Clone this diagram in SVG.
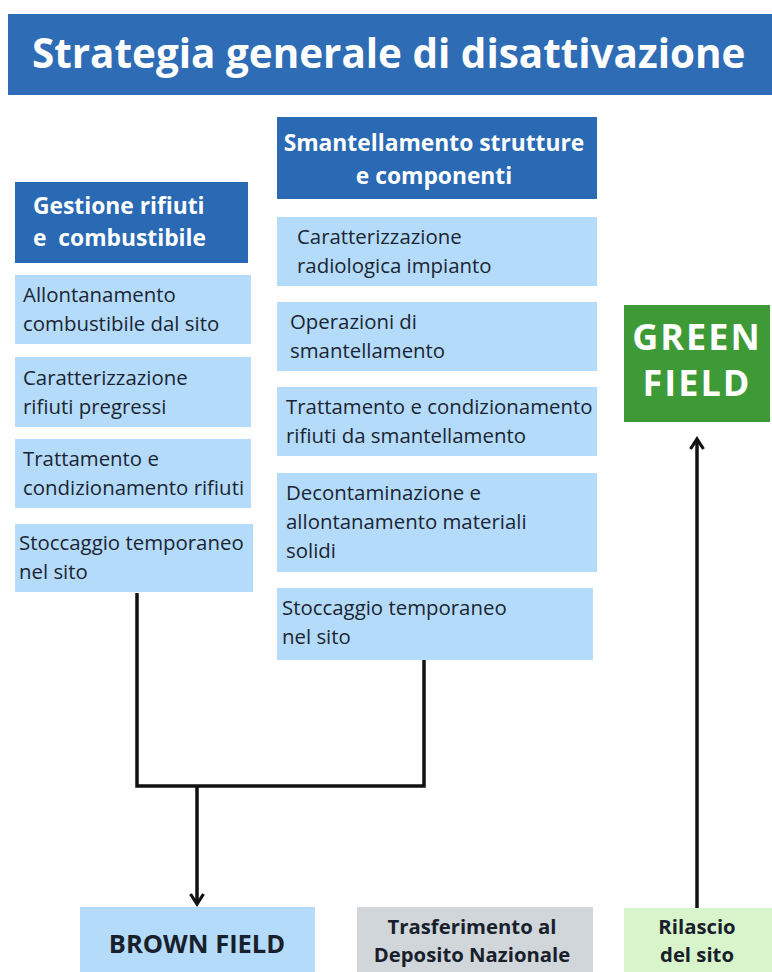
<svg xmlns="http://www.w3.org/2000/svg" width="772" height="972" viewBox="0 0 772 972">
<defs>
<style>
.dark{fill:#2a69b3}
.lite{fill:#b5dbfa}
.t{font-family:"Open Sans","Noto Sans","DejaVu Sans",sans-serif;font-size:20.4px;fill:#1a2533}
.h{font-family:"Open Sans","Noto Sans","DejaVu Sans",sans-serif;font-size:22.8px;font-weight:bold;fill:#ffffff}
.b{font-family:"Open Sans","Noto Sans","DejaVu Sans",sans-serif;font-size:20.3px;font-weight:bold;fill:#18202b;text-anchor:middle}
.big{font-size:25.5px}
.ln{fill:none;stroke:#111111;stroke-width:3.5;stroke-linejoin:miter}
</style>
<marker id="arr" viewBox="0 0 16 16" refX="13" refY="8" markerWidth="16" markerHeight="16" markerUnits="userSpaceOnUse" orient="auto">
<path d="M3,1.5 L13,8 L3,14.5" fill="none" stroke="#111111" stroke-width="3.2"/>
</marker>
</defs>
<rect width="772" height="972" fill="#ffffff"/>

<g id="title">
<rect x="8" y="14" width="764" height="81" fill="#2e6cb5"/>
<text x="32" y="68" font-family="'Open Sans','Noto Sans',sans-serif" font-size="40.4" font-weight="bold" fill="#ffffff">Strategia generale di disattivazione</text>
</g>

<g id="hdr-left">
<rect class="dark" x="15" y="182" width="233" height="81"/>
<text class="h" x="33" y="214">Gestione rifiuti</text>
<text class="h" x="33" y="246" xml:space="preserve">e  combustibile</text>
</g>
<g id="l1"><rect class="lite" x="15" y="275" width="236" height="69"/>
<text class="t" x="23" y="302">Allontanamento</text><text class="t" x="23" y="331">combustibile dal sito</text></g>
<g id="l2"><rect class="lite" x="15" y="357" width="236" height="70"/>
<text class="t" x="23" y="385">Caratterizzazione</text><text class="t" x="23" y="414">rifiuti pregressi</text></g>
<g id="l3"><rect class="lite" x="15" y="439" width="236" height="69"/>
<text class="t" x="23" y="466">Trattamento e</text><text class="t" x="23" y="495">condizionamento rifiuti</text></g>
<g id="l4"><rect class="lite" x="15" y="524" width="238" height="68"/>
<text class="t" x="19" y="550">Stoccaggio temporaneo</text><text class="t" x="19" y="579">nel sito</text></g>

<g id="hdr-right">
<rect class="dark" x="277" y="117" width="320" height="82"/>
<text class="h" x="434" y="151" text-anchor="middle">Smantellamento strutture</text>
<text class="h" x="434" y="184" text-anchor="middle">e componenti</text>
</g>
<g id="r1"><rect class="lite" x="277" y="217" width="320" height="69"/>
<text class="t" x="297" y="244">Caratterizzazione</text><text class="t" x="297" y="273">radiologica impianto</text></g>
<g id="r2"><rect class="lite" x="277" y="302" width="320" height="69"/>
<text class="t" x="290" y="329">Operazioni di</text><text class="t" x="290" y="358">smantellamento</text></g>
<g id="r3"><rect class="lite" x="277" y="387" width="320" height="69"/>
<text class="t" x="286" y="414">Trattamento e condizionamento</text><text class="t" x="286" y="443">rifiuti da smantellamento</text></g>
<g id="r4"><rect class="lite" x="277" y="473" width="320" height="99"/>
<text class="t" x="286" y="500">Decontaminazione e</text><text class="t" x="286" y="529">allontanamento materiali</text><text class="t" x="286" y="558">solidi</text></g>
<g id="r5"><rect class="lite" x="277" y="588" width="316" height="72"/>
<text class="t" x="282" y="615">Stoccaggio temporaneo</text><text class="t" x="282" y="644">nel sito</text></g>

<g id="green">
<rect x="624" y="305" width="146" height="117" fill="#3e9a37"/>
<text x="697" y="350" font-family="'Open Sans','Noto Sans',sans-serif" font-size="36" font-weight="bold" fill="#ffffff" text-anchor="middle" letter-spacing="2">GREEN</text>
<text x="697" y="396" font-family="'Open Sans','Noto Sans',sans-serif" font-size="36" font-weight="bold" fill="#ffffff" text-anchor="middle" letter-spacing="2">FIELD</text>
</g>

<g id="brown">
<rect class="lite" x="80" y="907" width="235" height="65"/>
<text class="b big" x="197" y="953">BROWN FIELD</text>
</g>
<g id="deposito">
<rect x="357" y="907" width="236" height="65" fill="#d1d6db"/>
<text class="b" x="472" y="934">Trasferimento al</text>
<text class="b" x="472" y="962">Deposito Nazionale</text>
</g>
<g id="rilascio">
<rect x="624" y="908" width="148" height="64" fill="#d8f4cb"/>
<text class="b" x="697" y="934">Rilascio</text>
<text class="b" x="697" y="962">del sito</text>
</g>

<g id="connectors">
<polyline class="ln" points="137,593 137,786 424,786 424,660"/>
<line class="ln" x1="197" y1="786" x2="197" y2="904" marker-end="url(#arr)"/>
<line class="ln" x1="697" y1="908" x2="697" y2="439" marker-end="url(#arr)"/>
</g>
</svg>
